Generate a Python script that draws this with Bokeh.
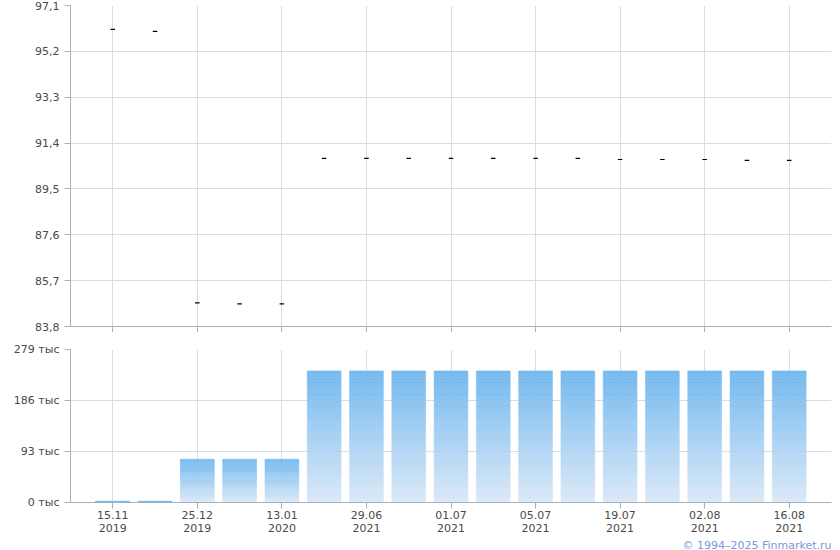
from bokeh.plotting import figure
from bokeh.layouts import column
from bokeh.models import FixedTicker, CustomJSTickFormatter, Range1d, Title, ColumnDataSource
from bokeh.embed import file_html
from bokeh.resources import INLINE

# ---- data ----
dates = ["15.11\n2019", "", "25.12\n2019", "", "13.01\n2020", "", "29.06\n2021", "",
         "01.07\n2021", "", "05.07\n2021", "", "19.07\n2021", "", "02.08\n2021", "", "16.08\n2021"]
prices = [96.11, 96.03, 84.78, 84.74, 84.74, 90.77, 90.77, 90.77, 90.77, 90.77, 90.77,
          90.77, 90.72, 90.72, 90.72, 90.68, 90.68]
volumes = [2, 2, 79, 79, 79, 240, 240, 240, 240, 240, 240, 240, 240, 240, 240, 240, 240]  # thousands
price_ticks = [83.8, 85.7, 87.6, 89.5, 91.4, 93.3, 95.2, 97.1]
vol_ticks = [0, 93, 186, 279]

FONT = "DejaVu Sans"
LBL = "#4a4a4a"
GRID = "#d8dde3"
AXIS = "#a8b0bc"
TOP_C = (0x74, 0xb9, 0xef)
BOT_C = (0xdc, 0xe9, 0xf7)

n = len(prices)
xs = list(range(n))
major = [i for i in xs if dates[i]]
xr = Range1d(-1, n)


def style(p):
    p.outline_line_color = None
    p.background_fill_color = "white"
    p.border_fill_color = "white"
    for ax in (p.xaxis[0], p.yaxis[0]):
        ax.axis_line_color = AXIS
        ax.major_tick_line_color = AXIS
        ax.major_tick_in = 0
        ax.major_tick_out = 6
        ax.minor_tick_line_color = None
        ax.major_label_text_font = FONT
        ax.major_label_text_font_size = "11px"
        ax.major_label_text_color = LBL
    p.xgrid.grid_line_color = GRID
    p.ygrid.grid_line_color = GRID
    p.xaxis.ticker = FixedTicker(ticks=major)


# ---- top (price) ----
p1 = figure(width=832, height=332, x_range=xr, y_range=Range1d(83.8, 97.1),
            output_backend="svg", toolbar_location=None,
            min_border_left=70, min_border_right=1, min_border_top=5, min_border_bottom=0)
style(p1)
p1.yaxis.ticker = FixedTicker(ticks=price_ticks)
p1.yaxis.formatter = CustomJSTickFormatter(code="return tick.toFixed(1).replace('.', ',');")
p1.xaxis.formatter = CustomJSTickFormatter(code="return '';")
p1.xaxis.major_label_standoff = 0
p1.scatter(xs, prices, marker="dash", size=4.5, line_color="black", line_width=1.2)

# ---- bottom (volume) ----
p2 = figure(width=832, height=218, x_range=xr, y_range=Range1d(0, 279),
            output_backend="svg", toolbar_location=None,
            min_border_left=70, min_border_right=1, min_border_top=17, min_border_bottom=0)
style(p2)
p2.yaxis.ticker = FixedTicker(ticks=vol_ticks)
p2.yaxis.formatter = CustomJSTickFormatter(code="return tick.toFixed(0) + ' тыс';")
p2.xaxis.major_label_overrides = {i: dates[i] for i in major}
p2.xaxis.major_label_standoff = 0
p2.xaxis.major_label_text_line_height = 1.0

# gradient bars made of slices of each bar
N = 40
l, r, b, t, c = [], [], [], [], []
for i, v in enumerate(volumes):
    for k in range(N):
        f0, f1 = k / N, (k + 1) / N
        fm = (f0 + f1) / 2
        col = tuple(int(round(BOT_C[j] + (TOP_C[j] - BOT_C[j]) * fm)) for j in range(3))
        l.append(i - 0.4)
        r.append(i + 0.4)
        b.append(v * f0)
        t.append(v * f1)
        c.append("#%02x%02x%02x" % col)
src = ColumnDataSource(dict(left=l, right=r, bottom=b, top=t, color=c))
p2.quad(left="left", right="right", bottom="bottom", top="top", fill_color="color",
        line_color="color", line_width=0.5, source=src)

cr = Title(text="© 1994–2025 Finmarket.ru", align="right", text_color="#7a98dc",
           text_font=FONT, text_font_size="11px", text_font_style="normal",
           standoff=-2, offset=0, text_line_height=1.0)
p2.add_layout(cr, "below")

layout = column(p1, p2, spacing=0)
open("out.html", "w").write(file_html(layout, INLINE))
